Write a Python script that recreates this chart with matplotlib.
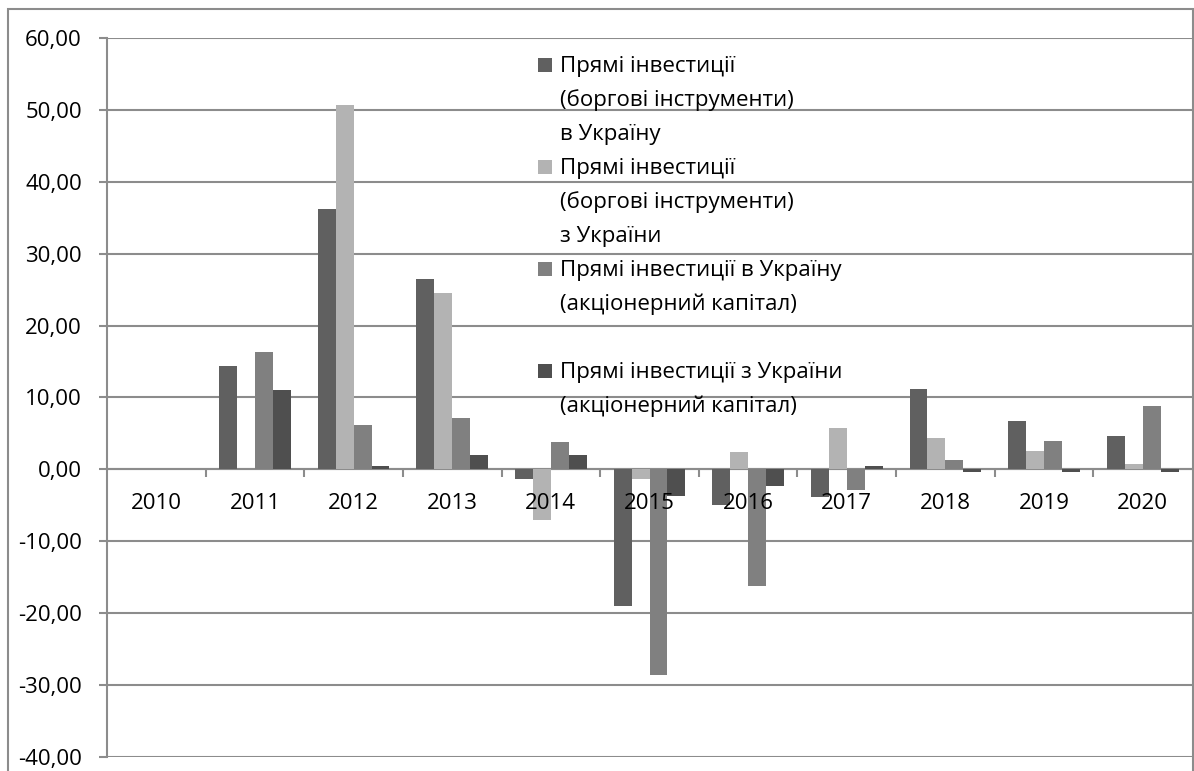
import matplotlib
matplotlib.use("Agg")
import matplotlib.pyplot as plt
import numpy as np
from matplotlib.patches import Rectangle
from matplotlib.ticker import FuncFormatter, FixedLocator

plt.rcParams['font.family'] = ['Open Sans', 'DejaVu Sans']

years = ["2010", "2011", "2012", "2013", "2014", "2015",
         "2016", "2017", "2018", "2019", "2020"]

debt_in = [0.0, 14.4, 36.2, 26.5, -1.3, -19.0, -4.9, -3.9, 11.2, 6.8, 4.7]
debt_out = [0.0, 0.0, 50.7, 24.5, -7.0, -1.3, 2.4, 5.8, 4.4, 2.6, 0.7]
equity_in = [0.0, 16.3, 6.2, 7.2, 3.8, -28.6, -16.2, -2.8, 1.3, 4.0, 8.8]
equity_out = [0.0, 11.0, 0.5, 2.0, 2.0, -3.7, -2.3, 0.5, -0.4, -0.4, -0.3]

labels = [
    ["Прямі інвестиції", "(боргові інструменти)", "в Україну"],
    ["Прямі інвестиції", "(боргові інструменти)", "з України"],
    ["Прямі інвестиції в Україну", "(акціонерний капітал)", ""],
    ["Прямі інвестиції з України", "(акціонерний капітал)"],
]
colors = ["#606060", "#b3b3b3", "#808080", "#4f4f4f"]
series = [debt_in, debt_out, equity_in, equity_out]

W, H = 1194, 771
FS = 16
fig = plt.figure(figsize=(W / 100, H / 100), dpi=100)
ax = fig.add_axes([107 / W, 1 - 757 / H, (1192 - 107) / W, (757 - 38) / H])

x = np.arange(len(years))
width = 1 / 5.5
for i, (vals, c) in enumerate(zip(series, colors)):
    ax.bar(x + (i - 1.5) * width, vals, width, color=c, linewidth=0, zorder=3)

ax.set_xlim(-0.5, len(years) - 0.5)
ax.set_ylim(-40, 60)
ax.set_yticks(np.arange(-40, 61, 10))
ax.yaxis.set_major_formatter(FuncFormatter(lambda v, p: f"{v:.2f}".replace(".", ",")))
ax.grid(axis="y", color="#8c8c8c", linewidth=1.5)
ax.yaxis.set_zorder(0.5)
ax.xaxis.set_zorder(4)

for s in ["top", "right"]:
    ax.spines[s].set_visible(False)
ax.spines["left"].set_color("#8c8c8c")
ax.spines["left"].set_linewidth(1.5)
ax.spines["left"].set_zorder(0.5)
ax.spines["bottom"].set_position(("data", 0))
ax.spines["bottom"].set_color("#8c8c8c")
ax.spines["bottom"].set_linewidth(1.5)
ax.spines["bottom"].set_zorder(0.5)

ax.set_xticks(x)
ax.set_xticklabels(years)
ax.xaxis.set_minor_locator(FixedLocator(np.arange(0.5, len(years) - 0.5, 1)))
ax.tick_params(axis="x", which="major", length=0, pad=17, labelsize=FS)
ax.tick_params(axis="x", which="minor", length=6, width=1.5, color="#8c8c8c", direction="out")
ax.tick_params(axis="y", length=6, width=1.5, color="#8c8c8c", pad=12, labelsize=FS)

# legend: one text line per row, square marker on the first line of each entry
row = 0
base_y, pitch = 72, 34
for lines, c in zip(labels, colors):
    y0 = base_y + row * pitch
    fig.patches.append(Rectangle((538 / W, 1 - y0 / H), 14 / W, 14 / H,
                                 transform=fig.transFigure, facecolor=c,
                                 edgecolor="none"))
    for line in lines:
        y = base_y + row * pitch
        fig.text(560 / W, 1 - y / H, line, fontsize=FS, va="baseline", ha="left")
        row += 1

# chart border
fig.patches.append(Rectangle((8 / W, -0.1), (1193 - 8) / W, 1.1 - 9 / H,
                             transform=fig.transFigure, fill=False,
                             edgecolor="#8c8c8c", linewidth=1.5))

fig.savefig("out.png", dpi=100)
